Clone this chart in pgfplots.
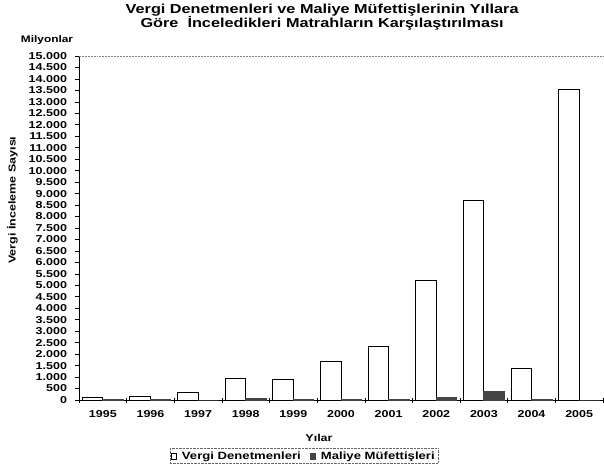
\documentclass[border=0pt]{standalone}
\usepackage{pgfplots}
\pgfplotsset{compat=1.18}
\usepackage{fontspec}
\setmainfont{Liberation Sans}[FakeStretch=1.25]
\definecolor{dark}{HTML}{454545}
\begin{document}
\begin{tikzpicture}[x=1pt,y=1pt]
\begin{axis}[
  at={(0,0)}, anchor=south west,
  scale only axis, width=524pt, height=344pt,
  ybar=0pt, bar width=20.5pt,
  xmin=-0.5, xmax=10.5, ymin=0, ymax=15000,
  scaled y ticks=false,
  xtick={0,...,10},
  xticklabels={1995,1996,1997,1998,1999,2000,2001,2002,2003,2004,2005},
  major x tick style={draw=none},
  minor xtick={-0.5,0.5,...,10.5},
  minor x tick style={black, line width=0.6pt},
  minor tick length=5pt,
  ytick={0,500,...,15000},
  yticklabels={0,500,1.000,1.500,2.000,2.500,3.000,3.500,4.000,4.500,5.000,5.500,6.000,6.500,7.000,7.500,8.000,8.500,9.000,9.500,10.000,10.500,11.000,11.500,12.000,12.500,13.000,13.500,14.000,14.500,15.000},
  y tick style={black, line width=0.6pt},
  major tick length=4pt,
  ytick align=outside, xtick align=center,
  axis x line*=bottom, axis y line*=left,
  axis line style={line width=0.8pt},
  x axis line style={-}, y axis line style={-},
  tick label style={font=\bfseries\fontsize{10}{11}\selectfont},
  yticklabel style={xshift=-4.5pt},
  xticklabel style={yshift=-4.5pt},
  xlabel={Yılar},
  xlabel style={font=\bfseries\fontsize{10}{11}\selectfont, at={(axis description cs:0.458,0)}, anchor=center, yshift=-38pt},
  ylabel={Vergi İnceleme Sayısı},
  ylabel style={font=\bfseries\fontsize{10}{11}\selectfont, at={(axis description cs:-0.127,0.581)}, anchor=center},
  legend style={at={(axis description cs:0.429,0)}, anchor=center, yshift=-56pt,
    draw=black!60, densely dotted, font=\bfseries\fontsize{10.5}{11}\selectfont,
    legend columns=2, inner sep=1pt,
    /tikz/every odd column/.append style={column sep=3pt},
    /tikz/every even column/.append style={column sep=7pt}},
  legend image code/.code={\draw[#1, solid, line width=0.6pt] (0pt,-3pt) rectangle (5.5pt,2.5pt);},
  clip=false,
]
\addplot[draw=black, fill=white, line width=1pt] coordinates {
 (0,115) (1,160) (2,320) (3,920) (4,880) (5,1700) (6,2330) (7,5230) (8,8690) (9,1380) (10,13560)};
\addlegendentry{Vergi Denetmenleri}
\addplot[draw=dark, fill=dark, line width=1pt] coordinates {
 (0,10) (1,10) (2,0) (3,50) (4,20) (5,30) (6,30) (7,110) (8,350) (9,10) (10,0)};
\addlegendentry{Maliye Müfettişleri}
\draw[densely dotted, gray, line width=0.5pt] (rel axis cs:0,1) -- (rel axis cs:1,1);
\node[font=\bfseries\fontsize{9.5}{10}\selectfont] at (axis description cs:-0.061,1.0465) {Milyonlar};
\node[font=\bfseries\fontsize{13}{15}\selectfont, anchor=base] at (axis description cs:0.464,1.124)
 {Vergi Denetmenleri ve Maliye Müfettişlerinin Yıllara};
\node[font=\bfseries\fontsize{13}{15}\selectfont, anchor=base] at (axis description cs:0.464,1.0815)
 {Göre\ \ İnceledikleri Matrahların Karşılaştırılması};
\end{axis}
\pgfresetboundingbox
\path[use as bounding box] (-79pt,-65pt) rectangle (525pt,400pt);
\end{tikzpicture}
\end{document}
